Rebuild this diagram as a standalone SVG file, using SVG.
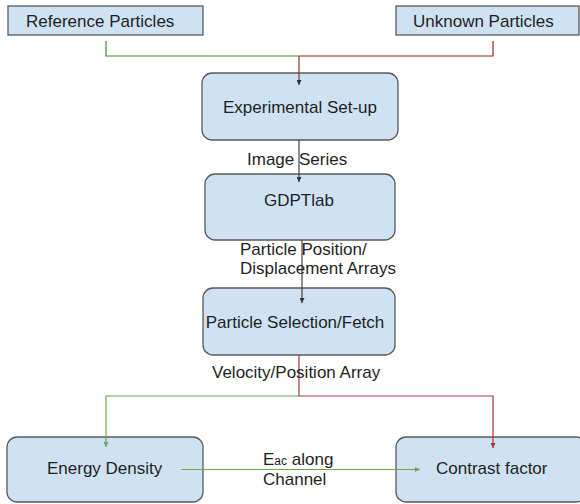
<svg xmlns="http://www.w3.org/2000/svg" width="580" height="504" viewBox="0 0 580 504">
<defs>
<style>
.box{fill:#cfe2f3;stroke:#595959;stroke-width:1.3}
.t{font-family:"Liberation Sans",Arial,sans-serif;font-size:17px;fill:#1f1f1f}
.c{fill:none;stroke-width:1.2}
</style>
<marker id="ak" viewBox="0 0 8 8" refX="8" refY="4" markerWidth="5" markerHeight="5" markerUnits="userSpaceOnUse" orient="auto"><path d="M0,0 L8,4 L0,8 Z" fill="#333"/></marker>
<marker id="ag" viewBox="0 0 8 8" refX="8" refY="4" markerWidth="5" markerHeight="5" markerUnits="userSpaceOnUse" orient="auto"><path d="M0,0 L8,4 L0,8 Z" fill="#6aa84f"/></marker>
<marker id="ar" viewBox="0 0 8 8" refX="8" refY="4" markerWidth="5" markerHeight="5" markerUnits="userSpaceOnUse" orient="auto"><path d="M0,0 L8,4 L0,8 Z" fill="#a33"/></marker>
</defs>
<g id="ref"><rect class="box" x="8" y="6" width="195" height="29"/><text class="t" x="26" y="26.5">Reference Particles</text></g>
<g id="unknown"><rect class="box" x="396" y="6" width="183" height="29"/><text class="t" x="413" y="26.5">Unknown Particles</text></g>
<g id="exp"><rect class="box" x="202" y="73" width="196" height="67" rx="10"/><text class="t" x="300" y="113" text-anchor="middle">Experimental Set-up</text></g>
<g id="gdpt"><rect class="box" x="205" y="174" width="190" height="66" rx="10"/><text class="t" x="299" y="206" text-anchor="middle">GDPTlab</text></g>
<g id="select"><rect class="box" x="203" y="288" width="192" height="67" rx="10"/><text class="t" x="295" y="328" text-anchor="middle">Particle Selection/Fetch</text></g>
<g id="energy"><rect class="box" x="7" y="437" width="196" height="65" rx="10"/><text class="t" x="47" y="474">Energy Density</text></g>
<g id="contrast"><rect class="box" x="396" y="437" width="190" height="65" rx="10"/><text class="t" x="436" y="474">Contrast factor</text></g>
<g id="connectors">
<path class="c" d="M106,41 V56 H299" stroke="#4a8a2a"/>
<path class="c" d="M493,41 V56 H299" stroke="#a61c1c"/>
<path class="c" d="M299,56 V85" stroke="#7a3a3a" marker-end="url(#ak)"/>
<path class="c" d="M299,140 V182" stroke="#444" marker-end="url(#ak)"/>
<path class="c" d="M302,240 V303" stroke="#444" marker-end="url(#ak)"/>
<path class="c" d="M299,355 V396 H493 V448" stroke="#a33a3a" marker-end="url(#ar)"/>
<path class="c" d="M299,396 H106 V447" stroke="#6aa84f" marker-end="url(#ag)"/>
<path class="c" d="M181,469.5 H420" stroke="#6aa84f" marker-end="url(#ag)"/>
</g>
<g id="labels">
<text class="t" x="247" y="165">Image Series</text>
<text class="t" x="240" y="255">Particle Position/</text>
<text class="t" x="240" y="274">Displacement Arrays</text>
<text class="t" x="212" y="378">Velocity/Position Array</text>
<text class="t" x="263" y="465">E<tspan font-size="12">ac</tspan> along</text>
<text class="t" x="263" y="485">Channel</text>
</g>
</svg>
